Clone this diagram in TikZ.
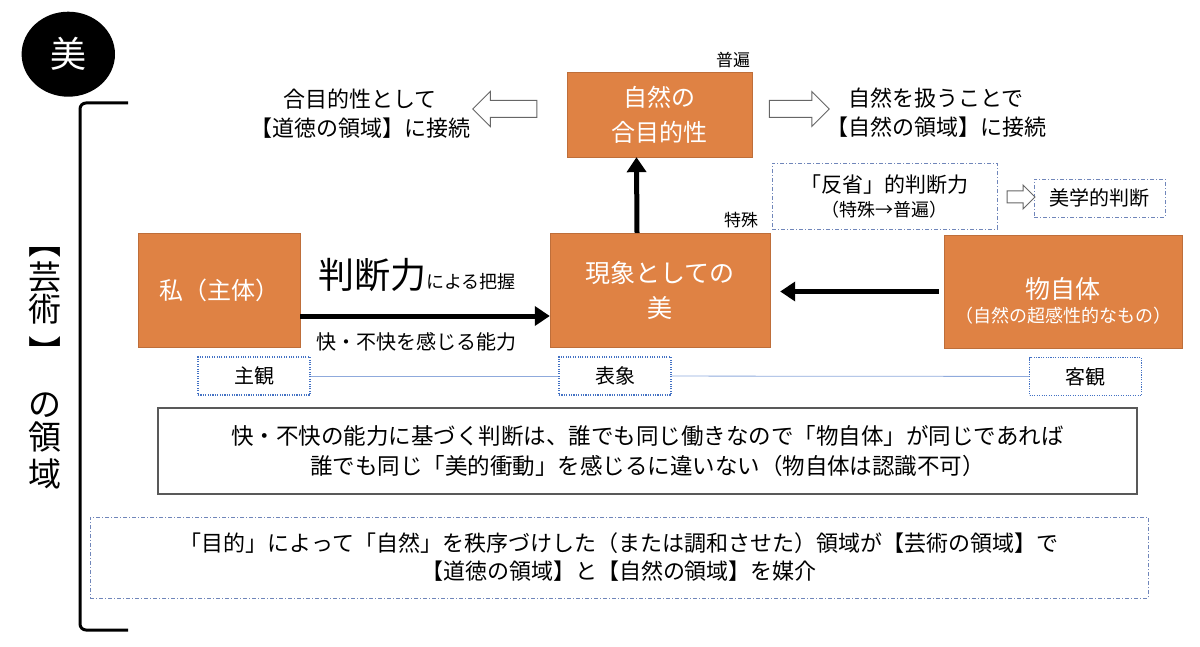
\documentclass[tikz,border=0pt]{standalone}
\usepackage{fontspec}
\setmainfont{Noto Sans CJK JP}
\usetikzlibrary{arrows.meta,shapes.arrows,shapes.geometric}
\definecolor{boxorange}{RGB}{223,130,68}
\definecolor{dotblue}{RGB}{68,114,196}
\definecolor{dashblue}{RGB}{112,134,186}
\definecolor{linkblue}{RGB}{143,170,220}
\newcommand{\fs}[1]{\fontsize{#1}{#1}\selectfont}

\begin{document}
\begin{tikzpicture}[x=1pt,y=-1pt,
  obox/.style={rectangle,fill=boxorange,draw=boxorange!85!black,line width=0.4pt,text=white,align=center,inner sep=0pt},
  dotbox/.style={rectangle,draw=dotblue,line width=1.1pt,dash pattern=on 1.1pt off 1.3pt,inner sep=0pt,minimum width=112pt,minimum height=38pt,font=\fs{20}},
  dashbox/.style={rectangle,draw=dashblue,line width=0.9pt,dash pattern=on 4pt off 2pt on 1pt off 2pt,inner sep=0pt,align=center},
  hollow/.style={single arrow,draw=black!60,fill=white,line width=1pt,inner xsep=0pt,inner ysep=8pt,single arrow head extend=9pt,minimum width=34pt},
  bigarrow/.style={line width=5pt,-{Triangle[length=15pt,width=19pt]}},
  vchar/.style={font=\fs{33},text height=29pt,text depth=4pt,inner sep=0pt}]

\useasboundingbox (0,0) rectangle (1200,647);

% title mark and bracket
\draw (68.3,54.2) node[ellipse,fill=black,text=white,inner sep=0pt,minimum width=93.4pt,minimum height=85pt,font=\fs{36}](bi){美};
\draw[line width=3pt,rounded corners=6pt] (128,103) -- (80,103) -- (80,630) -- (128,630);
\foreach \ch/\yy/\rot in {【/242/-90,芸/277/0,術/309/0,】/352/-90,の/404/0,領/437/0,域/474/0}
  \draw (45,\yy) node[vchar,rotate=\rot]{\ch};

% top row
\draw 	(659.5,114.5) node[obox,minimum width=185pt,minimum height=85pt,font=\fontsize{24}{35}\selectfont](nat){自然の\\合目的性}
		(733,60) node[font=\fs{17}](univ){普遍}
		(360,113.5) node[align=center,font=\fontsize{22}{29}\selectfont](moral){合目的性として\\【道徳の領域】に接続}
		(936,112.5) node[align=center,font=\fontsize{22}{29}\selectfont](world){自然を扱うことで\\【自然の領域】に接続};
\draw 	(509,109) node[hollow,shape border rotate=180,minimum height=64pt](la){}
		(795,109) node[hollow,minimum height=60pt](ra){};

% reflective judgement
\draw 	(884.5,196) node[dashbox,minimum width=225pt,minimum height=66pt,font=\fontsize{21}{24}\selectfont](refl){「反省」的判断力\\{\fs{18}（特殊→普遍）}}
		(1099.5,198) node[dashbox,minimum width=131pt,minimum height=38pt,font=\fs{20}](aes){美学的判断}
		(1018,197) node[hollow,minimum height=28pt,minimum width=23pt,inner ysep=5.5pt,single arrow head extend=6pt](sa){}
		(741,220) node[font=\fs{17}](spec){特殊};

% middle row
\draw 	(219,290) node[obox,minimum width=162pt,minimum height=114pt,font=\fs{24}](me){私（主体）}
		(660,290) node[obox,minimum width=220pt,minimum height=114pt,font=\fontsize{25}{35}\selectfont](phen){現象としての\\美}
		(1063,291.5) node[obox,minimum width=238pt,minimum height=113pt,
		    label={[text=white,align=center,yshift=-9.5pt]center:{\fs{25}物自体}\\[6pt]{\fs{18}（自然の超感性的なもの）}}](thing){};
\draw 	(318,289) node[anchor=base west,inner sep=0pt](grasp){{\fs{36}判断力}{\fs{18}による把握}}
		(416,342) node[font=\fs{20}](feel){快・不快を感じる能力};
\path[bigarrow]
    ([yshift=-26pt]me.east) edge ([yshift=-26pt]phen.west)
    ([xshift=-23pt]phen.north) edge ([xshift=-23pt]nat.south)
    (thing.west) edge[shorten >=10pt,shorten <=5pt] (phen.east |- thing.west);

% subject / representation / object
\draw 	(254,376) node[dotbox](subj){主観}
		(615,376) node[dotbox](repr){表象}
		(1085.5,376.5) node[dotbox](obj){客観};
\path[draw=linkblue,line width=0.8pt]
    (subj) edge (repr)
    (repr) edge (obj);

% notes
\draw 	(647.5,451) node[draw=black!65,line width=1.5pt,minimum width=979pt,minimum height=86pt,inner sep=0pt,align=center,font=\fontsize{22.5}{30}\selectfont](note){快・不快の能力に基づく判断は、誰でも同じ働きなので「物自体」が同じであれば\\誰でも同じ「美的衝動」を感じるに違いない（物自体は認識不可）}
		(619,557.5) node[dashbox,minimum width=1058pt,minimum height=81pt,font=\fontsize{22}{28}\selectfont](sum){「目的」によって「自然」を秩序づけした（または調和させた）領域が【芸術の領域】で\\【道徳の領域】と【自然の領域】を媒介};
\end{tikzpicture}
\end{document}
